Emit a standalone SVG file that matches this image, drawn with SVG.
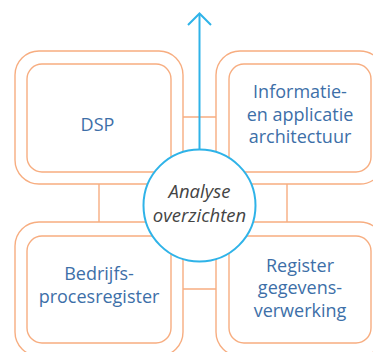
<svg xmlns="http://www.w3.org/2000/svg" width="373" height="352" viewBox="0 0 373 352">
<style>
.o{fill:none;stroke:#f7ad80;stroke-width:1.4}
.i{fill:#fff;stroke:#f7ad80;stroke-width:1.4}
.c{fill:none;stroke:#f7ad80;stroke-width:1.4}
.t{font-family:"Open Sans","Noto Sans",sans-serif;font-size:18px;fill:#3d6fa8;text-anchor:middle}
.a{font-family:"Open Sans","Noto Sans",sans-serif;font-size:18.5px;font-style:italic;fill:#444;text-anchor:middle}
.b{fill:none;stroke:#2fb3e8;stroke-width:2}
</style>
<rect width="373" height="352" fill="#fff"/>
<g id="connectors">
<line class="c" x1="183" y1="117" x2="216" y2="117"/>
<line class="c" x1="183" y1="289" x2="216" y2="289"/>
<line class="c" x1="99" y1="184" x2="99" y2="222"/>
<line class="c" x1="287" y1="184" x2="287" y2="222"/>
<line class="b" x1="199.5" y1="149" x2="199.5" y2="14"/>
<polyline class="b" points="188,25 199.5,13.5 211,25"/>
</g>
<g id="dsp">
<rect class="o" x="15" y="51" width="168" height="133" rx="24"/>
<rect class="i" x="27" y="64" width="144" height="108" rx="15"/>
<text class="t" x="97.5" y="131" font-size="23">DSP</text>
</g>
<g id="info">
<rect class="o" x="216" y="51" width="168" height="133" rx="24"/>
<rect class="i" x="229" y="64" width="142" height="108" rx="15"/>
<text class="t" x="300" y="98">Informatie-</text>
<text class="t" x="300" y="121">en applicatie</text>
<text class="t" x="300" y="143">architectuur</text>
</g>
<g id="bedrijf">
<rect class="o" x="15" y="222" width="168" height="134" rx="24"/>
<rect class="i" x="27" y="236" width="144" height="107" rx="15"/>
<text class="t" x="99" y="280">Bedrijfs-</text>
<text class="t" x="99" y="303">procesregister</text>
</g>
<g id="register">
<rect class="o" x="216" y="222" width="168" height="134" rx="24"/>
<rect class="i" x="229" y="236" width="142" height="107" rx="15"/>
<text class="t" x="300" y="272">Register</text>
<text class="t" x="300" y="294">gegevens-</text>
<text class="t" x="300" y="317">verwerking</text>
</g>
<g id="analyse">
<circle cx="199.5" cy="205.5" r="56" fill="#fff" stroke="#2fb3e8" stroke-width="2"/>
<text class="a" x="199.5" y="198">Analyse</text>
<text class="a" x="199.5" y="222">overzichten</text>
</g>
</svg>
